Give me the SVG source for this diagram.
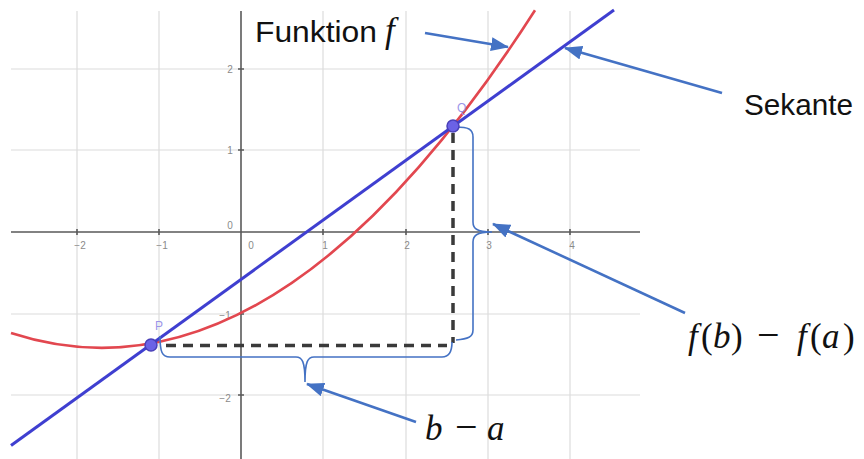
<svg xmlns="http://www.w3.org/2000/svg" width="864" height="459" viewBox="0 0 864 459">
  <style>
    .grid { stroke: #dcdcdc; stroke-width: 1.2; fill: none; }
    .axis { stroke: #5a5a5a; stroke-width: 1.6; fill: none; }
    .tick { font-family: "Liberation Sans", Arial, sans-serif; font-size: 10px; fill: #8a8a8a; }
    .curve { stroke: #e2474f; stroke-width: 2.6; fill: none; }
    .secant { stroke: #3f3fd0; stroke-width: 3; fill: none; }
    .dash { stroke: #3a3a3a; stroke-width: 3.5; stroke-dasharray: 10 7; fill: none; }
    .brace { stroke: #4472c4; stroke-width: 1.6; fill: none; }
    .conn { stroke: #4472c4; stroke-width: 2.6; fill: none; marker-end: url(#ah); }
    .pt { fill: #6b62e6; stroke: #4a40b8; stroke-width: 1.5; }
    .ptlabel { font-family: "Liberation Sans", Arial, sans-serif; font-size: 12px; fill: #9a94e8; }
    .lbl { font-family: "Liberation Sans", Arial, sans-serif; font-size: 30px; fill: #111; }
    .math { font-family: "Liberation Serif", "Times New Roman", serif; font-size: 35px; fill: #111; }
    .it { font-style: italic; }
  </style>
  <defs>
    <marker id="ah" markerUnits="userSpaceOnUse" markerWidth="18" markerHeight="14" refX="17" refY="7" orient="auto">
      <path d="M0,0 L18,7 L0,14 Z" fill="#4472c4"/>
    </marker>
  </defs>
  <rect width="864" height="459" fill="#ffffff"/>

  <g id="grid">
    <path class="grid" d="M77,11 V459 M159,11 V459 M323,11 V459 M406,11 V459 M488,11 V459 M570,11 V459"/>
    <path class="grid" d="M11,69 H640 M11,150 H640 M11,314 H640 M11,395 H640"/>
  </g>

  <g id="axes">
    <path class="axis" d="M11,232 H640 M241,11 V459"/>
    <path class="axis" stroke-width="1" d="M77,229 V235 M159,229 V235 M323,229 V235 M406,229 V235 M488,229 V235 M570,229 V235 M238,69 H244 M238,150 H244 M238,314 H244 M238,395 H244"/>
    <g class="tick" text-anchor="middle">
      <text x="80" y="249">−2</text>
      <text x="162" y="249">−1</text>
      <text x="251" y="249">0</text>
      <text x="325" y="249">1</text>
      <text x="407" y="249">2</text>
      <text x="489" y="249">3</text>
      <text x="572" y="249">4</text>
      <text x="230" y="229">0</text>
      <text x="230" y="73">2</text>
      <text x="230" y="154">1</text>
      <text x="225" y="319">−1</text>
      <text x="225" y="402">−2</text>
    </g>
  </g>

  <g id="function-f">
    <path class="curve" d="M11,333 Q273,418.6 535,10.3"/>
  </g>

  <g id="secant">
    <path class="secant" d="M11,445.5 L614,10"/>
  </g>

  <g id="dashed">
    <path class="dash" d="M166,345.5 L447,345.5"/>
    <path class="dash" d="M453,133 L453,343"/>
  </g>

  <g id="braces">
    <path class="brace" d="M160,336 C160,352 162,357 170,357 L296,357 C302,357 305,361 305,382 C305,361 308,357 314,357 L442,357 C449,357 452,352 452,342"/>
    <path class="brace" d="M456,127 C468,127 473,129 473,137 L473,222 C473,228 476,232 492,232 C476,232 473,236 473,242 L473,330 C473,337 468,339 456,340"/>
  </g>

  <g id="point-P">
    <circle class="pt" cx="151" cy="345" r="6"/>
    <text class="ptlabel" x="155" y="330">P</text>
  </g>
  <g id="point-Q">
    <circle class="pt" cx="453" cy="126" r="6"/>
    <text class="ptlabel" x="457" y="112">Q</text>
  </g>

  <g id="connectors">
    <path class="conn" d="M425,33 L508,47"/>
    <path class="conn" d="M722,93 L565,48"/>
    <path class="conn" d="M685,313 L493,224"/>
    <path class="conn" d="M416,422 L307,384"/>
  </g>

  <g id="label-funktion">
    <text class="lbl" x="255" y="42" textLength="122" lengthAdjust="spacingAndGlyphs">Funktion</text>
    <text class="math it" x="385" y="42" font-size="36">f</text>
  </g>
  <g id="label-sekante">
    <text class="lbl" x="744" y="115" textLength="109" lengthAdjust="spacingAndGlyphs">Sekante</text>
  </g>
  <g id="label-fb-fa">
    <text class="math" y="348"><tspan class="it" x="688">f</tspan><tspan x="701">(</tspan><tspan class="it" x="713">b</tspan><tspan x="731">)</tspan><tspan x="757" font-size="40">−</tspan><tspan class="it" x="797">f</tspan><tspan x="810">(</tspan><tspan class="it" x="822">a</tspan><tspan x="843">)</tspan></text>
  </g>
  <g id="label-b-a">
    <text class="math" y="440"><tspan class="it" x="425">b</tspan><tspan x="455" font-size="40">−</tspan><tspan class="it" x="487">a</tspan></text>
  </g>
</svg>
